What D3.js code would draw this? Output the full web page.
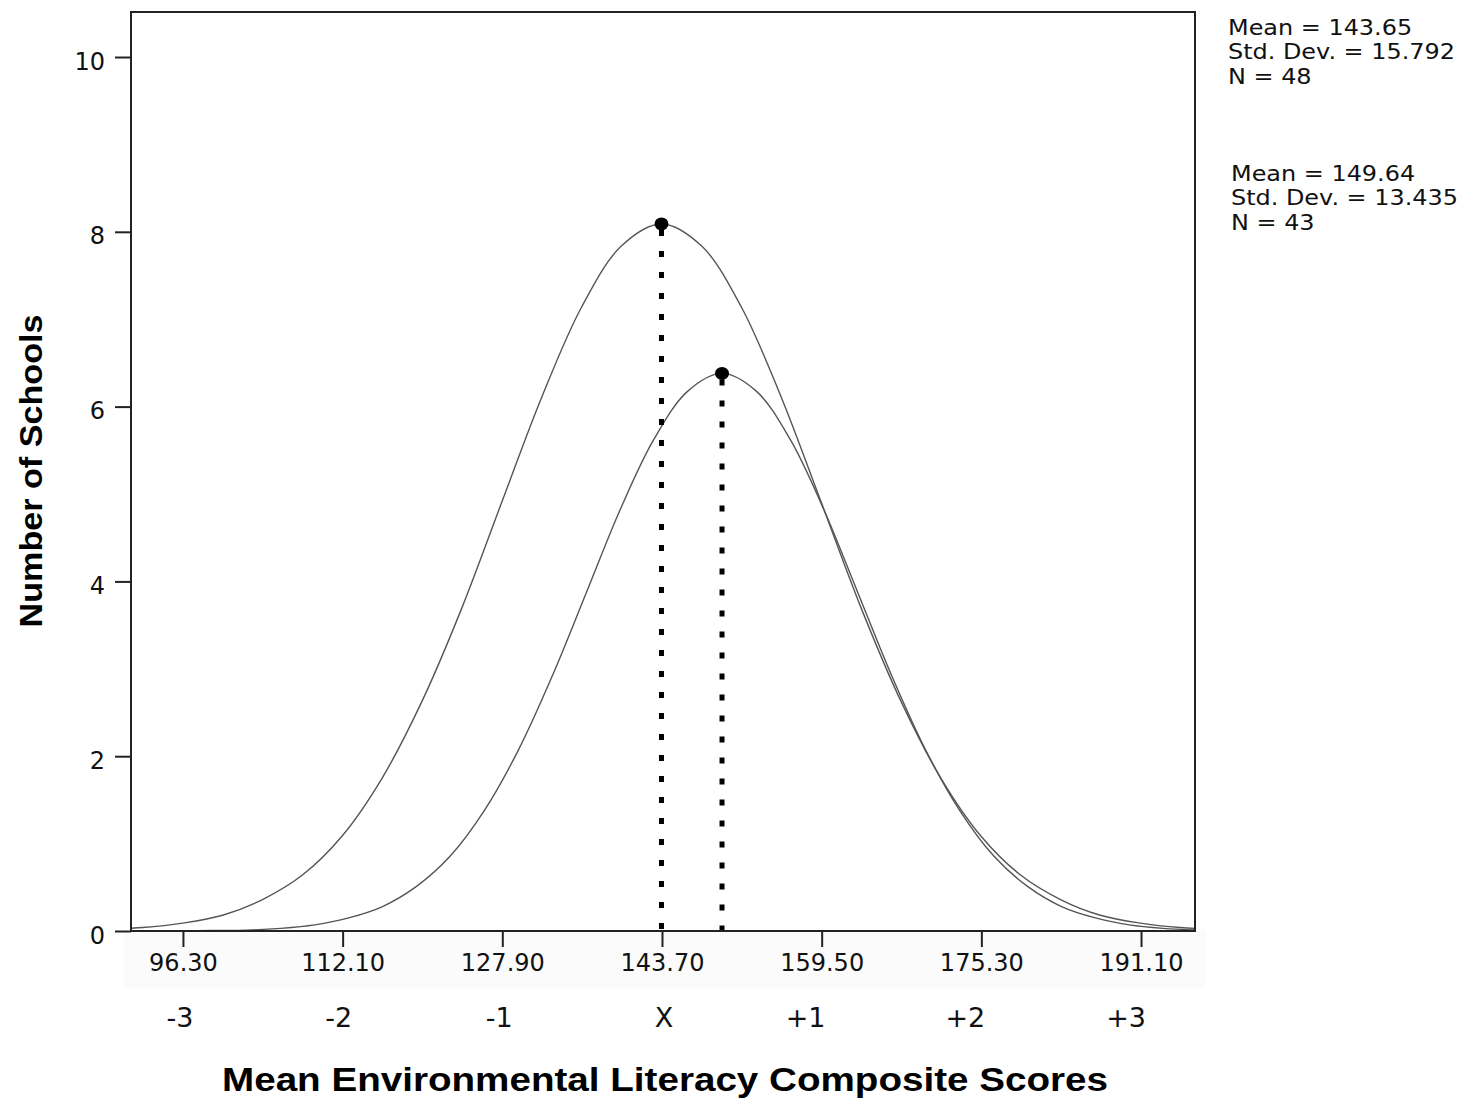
<!DOCTYPE html>
<html>
<head>
<meta charset="utf-8">
<script src="https://cdn.jsdelivr.net/npm/d3@7"></script>
<style>
  body { margin: 0; background: #fff; }
  svg { display: block; }
</style>
</head>
<body>
<div id="container"></div>
<script>
/* Constants and globals */
const width = 1473,
    height = 1106,
    margin = {top: 12, left: 131, bottom: 175, right: 278};

/* DATA */
// group 1 curve (N = 48): scores and heights
const scoreA = [88.38, 92.33, 96.27, 100.22, 104.17, 108.12, 112.07, 116.01, 119.96, 123.91, 127.86, 131.81, 135.75, 139.70, 143.65,
  147.60, 151.55, 155.49, 159.44, 163.39, 167.34, 171.29, 175.23, 179.18, 183.13, 187.08, 191.03, 194.97, 198.92];
const countA = [0.02, 0.04, 0.09, 0.18, 0.36, 0.64, 1.09, 1.75, 2.63, 3.70, 4.91, 6.11, 7.14, 7.84, 8.09,
  7.84, 7.14, 6.11, 4.91, 3.70, 2.63, 1.75, 1.09, 0.64, 0.36, 0.18, 0.09, 0.04, 0.02];

// group 2 curve (N = 43)
const scoreB = [89.18, 92.54, 95.90, 99.26, 102.62, 105.98, 109.34, 112.69, 116.05, 119.41, 122.77, 126.13, 129.49, 132.85, 136.21, 139.56, 142.92, 146.28, 149.64,
  153.00, 156.36, 159.72, 163.08, 166.43, 169.79, 173.15, 176.51, 179.87, 183.23, 186.59, 189.94, 193.30, 196.66];
const countB = [0, 0, 0.002, 0.006, 0.01, 0.03, 0.07, 0.15, 0.28, 0.51, 0.86, 1.38, 2.07, 2.92, 3.87, 4.82, 5.63, 6.18, 6.38,
  6.18, 5.63, 4.82, 3.87, 2.92, 2.07, 1.38, 0.86, 0.51, 0.28, 0.15, 0.07, 0.03, 0.01];

const peakX = [143.65, 149.64];
const peakY = [8.09, 6.38];

const xTicks = [96.3, 112.1, 127.9, 143.7, 159.5, 175.3, 191.1];
const sdLabels = ["-3", "-2", "-1", "X", "+1", "+2", "+3"];
const sdOffset = [-3, -4, -3, 2, -16, -16, -15]; // nudges so labels sit like the original
const yTicks = [0, 2, 4, 6, 8, 10];

const statsA = ["Mean = 143.65", "Std. Dev. = 15.792", "N = 48"];
const statsB = ["Mean = 149.64", "Std. Dev. = 13.435", "N = 43"];

/* SCALES */
const xScale = d3.scaleLinear()
  .domain([91.16, 196.44])
  .range([margin.left, width - margin.right]);

const yScale = d3.scaleLinear()
  .domain([0, 10.515])
  .range([height - margin.bottom, margin.top]);

const y0 = yScale(0);

/* SVG */
const svg = d3.select("#container")
  .append("svg")
  .attr("width", width)
  .attr("height", height);

// very faint band behind the tick labels
svg.append("rect")
  .attr("x", 124).attr("y", y0)
  .attr("width", 1082).attr("height", 57)
  .attr("fill", "#fbfbfb");

// clip the curves to the plot box
svg.append("clipPath").attr("id", "plot")
  .append("rect")
  .attr("x", xScale.range()[0]).attr("y", margin.top)
  .attr("width", xScale.range()[1] - xScale.range()[0])
  .attr("height", y0 - margin.top);

const line = d3.line()
  .x(d => xScale(d[0]))
  .y(d => yScale(d[1]))
  .curve(d3.curveCatmullRom.alpha(0.5));

[[scoreA, countA], [scoreB, countB]].forEach(([xs, ys]) => {
  svg.append("path")
    .datum(xs.map((x, i) => [x, ys[i]]))
    .attr("clip-path", "url(#plot)")
    .attr("fill", "none")
    .attr("stroke", "#555")
    .attr("stroke-width", 1.4)
    .attr("d", line);
});

// dotted drop lines from each peak
svg.selectAll(".drop")
  .data(peakX)
  .join("line")
  .attr("class", "drop")
  .attr("x1", d => xScale(d)).attr("x2", d => xScale(d))
  .attr("y1", (d, i) => yScale(peakY[i]) + 6)
  .attr("y2", y0)
  .attr("stroke", "#000")
  .attr("stroke-width", 5)
  .attr("stroke-dasharray", "6,15");

svg.selectAll(".peak")
  .data(peakX)
  .join("ellipse")
  .attr("class", "peak")
  .attr("cx", d => xScale(d))
  .attr("cy", (d, i) => yScale(peakY[i]))
  .attr("rx", 7).attr("ry", 6.5)
  .attr("fill", "#000");

/* AXES */
const yAxis = svg.append("g")
  .attr("transform", `translate(${margin.left},0)`)
  .call(d3.axisLeft(yScale).tickValues(yTicks).tickSize(16).tickSizeOuter(0).tickPadding(10));

const xAxis = svg.append("g")
  .attr("transform", `translate(0,${y0})`)
  .call(d3.axisBottom(xScale).tickValues(xTicks).tickFormat(d3.format(".2f"))
    .tickSize(16).tickSizeOuter(0).tickPadding(7));

[xAxis, yAxis].forEach(g => {
  g.select(".domain").remove();
  g.selectAll("line").attr("stroke", "#222").attr("stroke-width", 2);
  g.selectAll("text")
    .attr("fill", "#111")
    .style("font-family", "'DejaVu Sans', Verdana, sans-serif")
    .style("font-size", "24px");
});
yAxis.selectAll("text").attr("dy", "0.5em");

// plot frame
svg.append("rect")
  .attr("x", xScale.range()[0]).attr("y", margin.top)
  .attr("width", xScale.range()[1] - xScale.range()[0])
  .attr("height", y0 - margin.top)
  .attr("fill", "none")
  .attr("stroke", "#222")
  .attr("stroke-width", 2);

// standard deviation row
svg.selectAll(".sd")
  .data(xTicks)
  .join("text")
  .attr("class", "sd")
  .attr("x", (d, i) => xScale(d) + sdOffset[i])
  .attr("y", 1027)
  .attr("text-anchor", "middle")
  .style("font-family", "'DejaVu Sans', Verdana, sans-serif")
  .style("font-size", "27px")
  .attr("fill", "#111")
  .text((d, i) => sdLabels[i]);

/* TITLES */
svg.append("text")
  .attr("x", 665).attr("y", 1091)
  .attr("text-anchor", "middle")
  .attr("textLength", 886)
  .attr("lengthAdjust", "spacingAndGlyphs")
  .style("font-family", "'Liberation Sans', Arial, sans-serif")
  .style("font-weight", "bold")
  .style("font-size", "33px")
  .text("Mean Environmental Literacy Composite Scores");

svg.append("text")
  .attr("transform", "translate(42,471) rotate(-90)")
  .attr("text-anchor", "middle")
  .attr("textLength", 313)
  .attr("lengthAdjust", "spacingAndGlyphs")
  .style("font-family", "'Liberation Sans', Arial, sans-serif")
  .style("font-weight", "bold")
  .style("font-size", "32px")
  .text("Number of Schools");

/* STATS BOXES - tight lines, slightly widened glyphs like the original */
[[statsA, 1228, 35], [statsB, 1231, 181]].forEach(([lines, x, y]) => {
  svg.append("g")
    .attr("transform", `translate(${x},${y}) scale(1.14,1)`)
    .selectAll("text")
    .data(lines)
    .join("text")
    .attr("x", 0)
    .attr("y", (d, i) => i * 24.5)
    .style("font-family", "'DejaVu Sans', Verdana, sans-serif")
    .style("font-size", "21px")
    .attr("fill", "#111")
    .text(d => d);
});
</script>
</body>
</html>
